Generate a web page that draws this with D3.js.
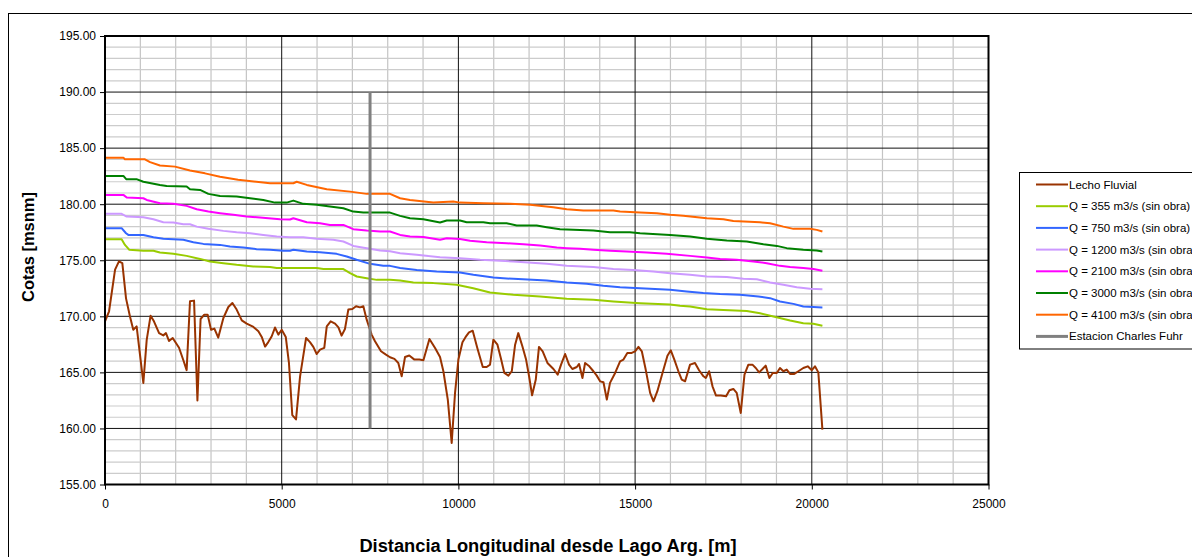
<!DOCTYPE html>
<html>
<head>
<meta charset="utf-8">
<script src="https://cdn.jsdelivr.net/npm/d3@7"></script>
<style>
  body { margin: 0; background: #fff; }
  svg text { font-family: "Liberation Sans", Arial, Helvetica, sans-serif; fill: #000; }
</style>
</head>
<body>
<svg id="chart" width="1192" height="557"></svg>
<script>
// Perfil longitudinal: distancia [m] desde Lago Argentino vs. cota [msnm]
const lechoFluvial = [
  [0,169.55],[115,170.45],[285,174.16],[395,174.9],[490,174.75],[595,171.6],[705,170.0],[800,168.8],[895,169.1],
  [1085,164.06],[1180,167.9],[1290,170.06],[1385,169.55],[1530,168.5],[1650,168.3],[1725,168.5],[1810,167.8],
  [1915,168.07],[2095,167.2],[2215,166.1],[2310,165.2],[2405,171.34],[2520,171.4],[2615,162.5],[2705,169.76],
  [2810,170.15],[2905,170.15],[3000,168.8],[3095,168.9],[3205,168.1],[3350,169.85],[3490,170.83],[3605,171.19],
  [3725,170.6],[3870,169.64],[4010,169.35],[4200,169.05],[4340,168.66],[4435,168.16],[4530,167.3],[4620,167.7],
  [4715,168.2],[4810,169.0],[4905,168.37],[5000,168.8],[5115,168.16],[5205,165.84],[5300,161.18],[5405,160.8],
  [5520,164.65],[5690,168.07],[5800,167.7],[5895,167.27],[5990,166.64],[6085,167.03],[6205,167.18],[6275,169.1],
  [6385,169.55],[6510,169.35],[6605,169.02],[6695,168.28],[6790,168.87],[6885,170.6],[7000,170.65],[7105,170.9],
  [7215,170.8],[7310,170.9],[7405,169.7],[7545,168.37],[7640,167.77],[7810,166.88],[7950,166.58],[8065,166.35],
  [8190,166.2],[8300,165.84],[8395,164.65],[8490,166.37],[8610,166.5],[8755,166.14],[8895,166.14],[9010,166.08],
  [9180,167.98],[9340,167.18],[9480,166.37],[9575,165.1],[9700,162.57],[9810,158.7],[9905,163.17],[10000,166.14],
  [10115,167.68],[10205,168.16],[10300,168.57],[10405,168.72],[10535,167.18],[10690,165.48],[10800,165.48],
  [10895,165.69],[10990,167.92],[11105,167.47],[11200,166.29],[11300,164.95],[11415,164.71],[11510,165.1],
  [11605,167.47],[11695,168.5],[11810,167.33],[11915,166.14],[12000,164.65],[12085,162.96],[12190,164.36],
  [12280,167.27],[12385,166.88],[12520,165.84],[12690,165.3],[12810,164.8],[12905,165.69],[13020,166.64],
  [13130,165.69],[13225,165.3],[13350,165.48],[13415,165.75],[13510,164.5],[13585,165.84],[13705,165.54],
  [13820,165.1],[13915,164.71],[14010,164.2],[14105,164.12],[14200,162.57],[14290,164.06],[14435,164.95],
  [14575,165.99],[14670,166.14],[14780,166.73],[14905,166.73],[15000,166.88],[15095,167.27],[15190,166.88],
  [15300,165.25],[15425,163.17],[15520,162.42],[15630,163.32],[15775,164.95],[15915,166.49],[16010,166.97],
  [16110,166.14],[16225,165.1],[16320,164.36],[16415,164.21],[16555,165.69],[16695,165.84],[16810,165.19],
  [16935,164.65],[17000,164.5],[17095,165.1],[17190,163.76],[17290,162.93],[17425,162.93],[17575,162.87],
  [17670,163.4],[17780,163.52],[17875,163.17],[17990,161.38],[18095,164.8],[18205,165.69],[18320,165.69],
  [18415,165.39],[18510,165.0],[18605,165.3],[18695,165.6],[18800,164.5],[18895,164.95],[19010,164.95],
  [19100,165.39],[19195,165.1],[19290,165.25],[19385,164.86],[19505,164.86],[19620,165.1],[19760,165.39],
  [19885,165.54],[20000,165.19],[20090,165.54],[20185,165.0],[20300,159.9]
];

const q355 = [
  [0,176.88],[470,176.88],[565,176.37],[690,175.93],[1085,175.84],[1370,175.84],[1555,175.69],[1935,175.57],
  [2310,175.39],[2690,175.12],[2970,174.89],[3350,174.74],[3725,174.59],[4195,174.44],[4670,174.39],[4860,174.3],
  [5990,174.3],[6180,174.21],[6745,174.21],[6935,173.85],[7125,173.55],[7405,173.4],[7690,173.25],[8065,173.25],
  [8350,173.19],[8725,173.02],[9290,172.96],[9950,172.81],[10420,172.51],[10895,172.12],[11555,171.92],
  [12310,171.77],[13065,171.56],[13820,171.47],[14385,171.32],[15140,171.17],[15990,171.05],[16270,170.94],
  [16555,170.87],[17030,170.63],[17500,170.57],[18160,170.48],[18535,170.27],[18915,169.98],[19385,169.62],
  [19760,169.39],[20045,169.33],[20300,169.15]
];

const q750 = [
  [0,177.86],[470,177.86],[595,177.41],[660,177.26],[1085,177.26],[1370,177.05],[1650,176.91],[1935,176.88],
  [2215,176.82],[2500,176.61],[2785,176.46],[3255,176.37],[3535,176.22],[3915,176.13],[4290,175.99],[4670,175.93],
  [5045,175.84],[5235,175.84],[5330,175.93],[5710,175.78],[6085,175.72],[6555,175.57],[6840,175.33],[7120,175.04],
  [7500,174.68],[7875,174.5],[8065,174.5],[8350,174.3],[8820,174.14],[9385,173.99],[10045,173.9],[10425,173.7],
  [10990,173.46],[11555,173.34],[12500,173.19],[13065,173.02],[13630,172.9],[14100,172.72],[14575,172.6],
  [15140,172.51],[15705,172.42],[15990,172.36],[16460,172.21],[16930,172.07],[17405,171.98],[17970,171.92],
  [18490,171.77],[18820,171.62],[19100,171.32],[19480,171.11],[19760,170.87],[20045,170.82],[20300,170.78]
];

const q1200 = [
  [0,179.14],[470,179.14],[615,178.9],[1085,178.84],[1370,178.66],[1650,178.39],[1935,178.36],[2215,178.21],
  [2405,178.21],[2595,178.0],[2925,177.8],[3350,177.62],[3725,177.5],[4105,177.41],[4480,177.26],[4860,177.11],
  [5235,177.05],[5610,177.05],[5990,176.91],[6460,176.82],[6745,176.67],[7030,176.28],[7405,176.08],
  [7785,175.87],[8065,175.8],[8350,175.63],[8820,175.48],[9480,175.27],[10045,175.18],[10615,175.04],
  [11555,174.89],[12500,174.68],[13065,174.5],[13820,174.39],[14385,174.23],[14950,174.14],[15515,173.99],
  [15990,173.85],[16555,173.7],[17030,173.55],[17595,173.5],[18065,173.34],[18445,173.3],[18820,173.02],
  [19195,172.81],[19575,172.6],[19950,172.45],[20300,172.42]
];

const q2100 = [
  [0,180.83],[520,180.83],[615,180.59],[1085,180.53],[1180,180.38],[1555,180.09],[1935,180.03],[2310,179.85],
  [2595,179.55],[2925,179.34],[3255,179.2],[3630,179.05],[4010,178.9],[4385,178.81],[4950,178.66],[5235,178.63],
  [5330,178.75],[5710,178.39],[6085,178.3],[6365,178.15],[6745,178.15],[7025,177.77],[7405,177.65],[7785,177.56],
  [8065,177.56],[8350,177.26],[8630,177.11],[9010,177.08],[9480,176.82],[9670,176.97],[10045,176.9],
  [10330,176.73],[10800,176.61],[11370,176.52],[11840,176.43],[12310,176.31],[12785,176.13],[13065,176.08],
  [13445,176.02],[13820,175.93],[14290,175.84],[14765,175.78],[15330,175.69],[15895,175.57],[16555,175.39],
  [17030,175.24],[17405,175.12],[17875,175.04],[18345,174.89],[18725,174.74],[19100,174.5],[19385,174.39],
  [19760,174.3],[20045,174.21],[20300,174.06]
];

const q3000 = [
  [0,182.52],[520,182.52],[600,182.23],[890,182.23],[1085,182.0],[1555,181.72],[1745,181.63],[2310,181.57],
  [2405,181.33],[2690,181.27],[2925,180.92],[3255,180.74],[3725,180.68],[4105,180.53],[4480,180.38],
  [4810,180.14],[5140,180.14],[5330,180.32],[5610,180.03],[5990,179.94],[6365,179.79],[6745,179.64],
  [7025,179.34],[7310,179.25],[8065,179.25],[8350,178.96],[8630,178.75],[9010,178.66],[9480,178.36],
  [9670,178.54],[10045,178.54],[10235,178.39],[10705,178.39],[10895,178.3],[11365,178.3],[11650,178.1],
  [12215,178.1],[12500,177.95],[12875,177.77],[13820,177.65],[14290,177.5],[14855,177.5],[15140,177.41],
  [15990,177.26],[16555,177.11],[17030,176.91],[17595,176.76],[18160,176.67],[18630,176.43],[19010,176.28],
  [19290,176.08],[19760,175.93],[20140,175.87],[20300,175.78]
];

const q4100 = [
  [0,184.15],[520,184.15],[565,184.0],[1130,184.0],[1275,183.75],[1555,183.45],[1980,183.35],[2405,183.0],
  [2830,182.75],[3255,182.45],[3765,182.17],[4670,181.87],[5330,181.87],[5425,182.0],[5710,181.72],
  [6275,181.33],[6935,181.12],[7405,180.92],[8065,180.92],[8350,180.53],[8630,180.38],[9290,180.14],
  [9855,180.23],[10045,180.14],[10705,180.09],[11460,180.03],[12030,179.94],[12685,179.73],[13065,179.55],
  [13535,179.43],[14385,179.43],[14575,179.34],[15140,179.25],[15615,179.2],[15990,179.05],[16365,178.96],
  [17030,178.75],[17500,178.66],[17780,178.51],[18535,178.39],[18820,178.3],[19195,178.0],[19480,177.8],
  [19950,177.8],[20140,177.71],[20300,177.56]
];

// Estacion de aforo Charles Fuhr: distancia y rango vertical dibujado
const estacionCharlesFuhr = [[7500,160],[7500,190]];

const xTicks = [0, 5000, 10000, 15000, 20000, 25000];
const yTicks = [155, 160, 165, 170, 175, 180, 185, 190, 195];

const seriesNames = [
  "Lecho Fluvial",
  "Q = 355 m3/s (sin obra)",
  "Q = 750 m3/s (sin obra)",
  "Q = 1200 m3/s (sin obra)",
  "Q = 2100 m3/s (sin obra)",
  "Q = 3000 m3/s (sin obra)",
  "Q = 4100 m3/s (sin obra)",
  "Estacion Charles Fuhr"
];
const seriesData = [lechoFluvial, q355, q750, q1200, q2100, q3000, q4100, estacionCharlesFuhr];
const seriesColors = ["#993300", "#99cc00", "#3366ff", "#cc99ff", "#ff00ff", "#008000", "#ff6600", "#808080"];
const seriesWidths = [2, 2, 2, 2, 2, 2, 2, 3];

// ---- layout ----
const svg = d3.select("#chart");
const plot = { left: 105, right: 988.5, top: 36, bottom: 484.5 };

const x = d3.scaleLinear().domain([0, 25000]).range([plot.left, plot.right]);
const y = d3.scaleLinear().domain([155, 195]).range([plot.bottom, plot.top]);

// outer chart frame
svg.append("rect")
  .attr("x", 8.5).attr("y", 13.5)
  .attr("width", 1300).attr("height", 700)
  .attr("fill", "#fff").attr("stroke", "#000").attr("stroke-width", 1);

// plot background
svg.append("rect")
  .attr("x", plot.left).attr("y", plot.top)
  .attr("width", plot.right - plot.left).attr("height", plot.bottom - plot.top)
  .attr("fill", "#fff");

// minor grid
const grid = svg.append("g");
const minorX = d3.range(1000, 25000, 1000).filter(v => v % 5000 !== 0);
const minorY = d3.range(156, 195, 1).filter(v => v % 5 !== 0);
grid.selectAll("line.mx").data(minorX).join("line")
  .attr("x1", d => x(d)).attr("x2", d => x(d))
  .attr("y1", plot.top).attr("y2", plot.bottom)
  .attr("stroke", "#c4c4c4").attr("stroke-width", 1.2);
grid.selectAll("line.my").data(minorY).join("line")
  .attr("x1", plot.left).attr("x2", plot.right)
  .attr("y1", d => y(d)).attr("y2", d => y(d))
  .attr("stroke", "#cccccc").attr("stroke-width", 1.2);

// major grid
grid.selectAll("line.Mx").data(xTicks.slice(1, -1)).join("line")
  .attr("x1", d => x(d)).attr("x2", d => x(d))
  .attr("y1", plot.top).attr("y2", plot.bottom)
  .attr("stroke", "#111").attr("stroke-width", 1);
grid.selectAll("line.My").data(yTicks.slice(1, -1)).join("line")
  .attr("x1", plot.left).attr("x2", plot.right)
  .attr("y1", d => y(d)).attr("y2", d => y(d))
  .attr("stroke", "#111").attr("stroke-width", 1);

// series lines (drawn water levels first, riverbed and station on top)
const line = d3.line().x(d => x(d[0])).y(d => y(d[1]));
const drawOrder = [1, 2, 3, 4, 5, 6, 0, 7];
const linesG = svg.append("g");
drawOrder.forEach(i => {
  linesG.append("path")
    .datum(seriesData[i])
    .attr("d", line)
    .attr("fill", "none")
    .attr("stroke", seriesColors[i])
    .attr("stroke-width", seriesWidths[i])
    .attr("stroke-linejoin", "round");
});

// plot-area border
svg.append("rect")
  .attr("x", plot.left).attr("y", plot.top)
  .attr("width", plot.right - plot.left).attr("height", plot.bottom - plot.top)
  .attr("fill", "none").attr("stroke", "#000").attr("stroke-width", 2);

// axes
const yAxis = d3.axisLeft(y).tickValues(yTicks).tickFormat(d3.format(".2f"))
  .tickSizeInner(5).tickSizeOuter(0).tickPadding(4);
const gy = svg.append("g").attr("transform", `translate(${plot.left},0)`).call(yAxis);
gy.select(".domain").remove();
gy.selectAll("text").style("font-size", "12px").attr("fill", "#000");
gy.selectAll("line").attr("stroke", "#000");

const xAxis = d3.axisBottom(x).tickValues(xTicks).tickFormat(d3.format("d"))
  .tickSizeInner(5).tickSizeOuter(0).tickPadding(10);
const gx = svg.append("g").attr("transform", `translate(0,${plot.bottom})`).call(xAxis);
gx.select(".domain").remove();
gx.selectAll("text").style("font-size", "12px").attr("fill", "#000");
gx.selectAll("line").attr("stroke", "#000");

// axis titles
svg.append("text")
  .attr("transform", "translate(34,247) rotate(-90)")
  .attr("text-anchor", "middle")
  .style("font-size", "16.5px").style("font-weight", "bold")
  .text("Cotas [msnm]");
svg.append("text")
  .attr("x", 548).attr("y", 551.5)
  .attr("text-anchor", "middle")
  .style("font-size", "18.3px").style("font-weight", "bold")
  .text("Distancia Longitudinal desde Lago Arg. [m]");

// legend
const legend = svg.append("g");
legend.append("rect")
  .attr("x", 1019.5).attr("y", 172.5)
  .attr("width", 300).attr("height", 176.5)
  .attr("fill", "#fff").attr("stroke", "#000").attr("stroke-width", 1);
const rowY = i => 184.5 + i * 21.7;
const items = legend.selectAll("g.item").data(seriesNames).join("g")
  .attr("transform", (d, i) => `translate(0,${rowY(i)})`);
items.append("line")
  .attr("x1", 1036).attr("x2", 1068).attr("y1", 0).attr("y2", 0)
  .attr("stroke", (d, i) => seriesColors[i])
  .attr("stroke-width", (d, i) => seriesWidths[i]);
items.append("text")
  .attr("x", 1069).attr("y", 4)
  .style("font-size", "11.5px")
  .text(d => d);
</script>
</body>
</html>
